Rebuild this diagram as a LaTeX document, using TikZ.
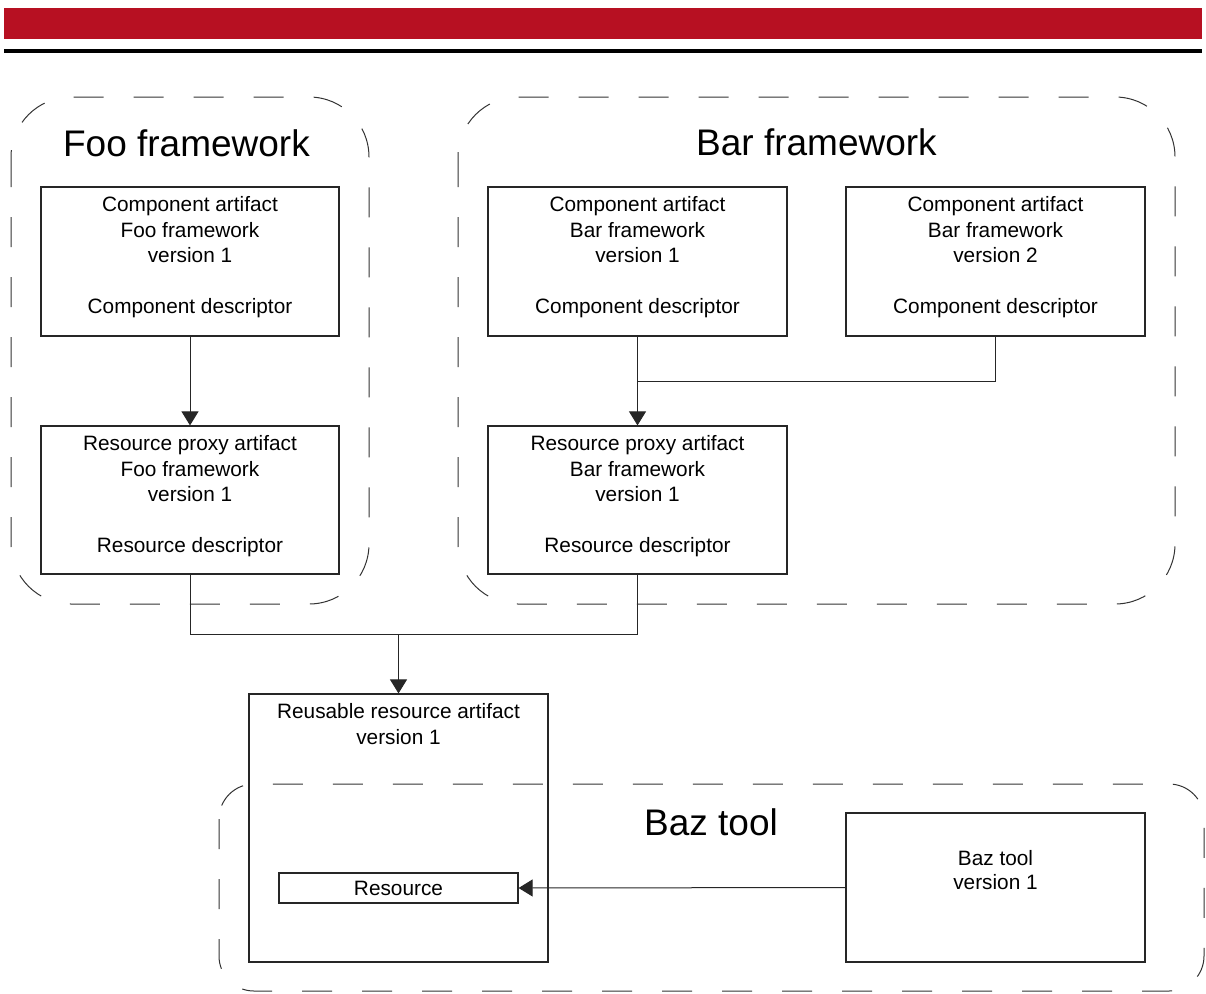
\documentclass[tikz,border=0pt]{standalone}
\usepackage{fontspec}
\setmainfont{Liberation Sans}
\usetikzlibrary{arrows.meta}
\definecolor{bandred}{RGB}{183,16,34}
\begin{document}
\begin{tikzpicture}[x=1pt,y=-1pt,
  artifact/.style={draw=black!85, line width=1.2pt, inner sep=0pt},
  boxtext/.style={anchor=north, inner sep=0pt, align=center,
    font=\fontsize{20.8}{25.5}\selectfont},
  grouptitle/.style={anchor=base, inner sep=0pt, font=\fontsize{37}{44}\selectfont},
  group/.style={draw=black!80, line width=1pt, dash pattern=on 30pt off 30pt},
  flow/.style={draw=black!85, line width=1pt},
  arr/.style={flow, -{Triangle[length=14pt,width=17pt]}},
]
\useasboundingbox (0,0) rectangle (1206,993);

% header bands
\fill[bandred] (4,8) rectangle (1202,38.5);
\fill[black] (4,49) rectangle (1202,52.5);

% framework and tool groups
\draw[group, rounded corners=60pt] (11,97) rectangle (369,604);
\draw[group, rounded corners=60pt] (458,97) rectangle (1175,604);
\draw[group, rounded corners=35pt] (219,784) rectangle (1204,991);

\node[grouptitle] (fooTitle) at (186.5,156) {Foo framework};
\node[grouptitle] (barTitle) at (816.5,155) {Bar framework};
\node[grouptitle] (bazTitle) at (711,835) {Baz tool};

% artifacts
\node[artifact, minimum width=298pt, minimum height=149pt] (fooComp) at (190,261.5) {};
\node[artifact, minimum width=299pt, minimum height=149pt] (barCompA) at (637.5,261.5) {};
\node[artifact, minimum width=299pt, minimum height=149pt] (barCompB) at (995.5,261.5) {};
\node[artifact, minimum width=298pt, minimum height=148pt] (fooProxy) at (190,500) {};
\node[artifact, minimum width=299pt, minimum height=148pt] (barProxy) at (637.5,500) {};
\node[artifact, minimum width=299pt, minimum height=268pt] (reusable) at (398.5,828) {};
\node[artifact, minimum width=239pt, minimum height=30pt] (resource) at (398.5,888) {};
\node[artifact, minimum width=299pt, minimum height=149pt] (baz) at (995.5,887.5) {};

% artifact texts
\node[boxtext] (fooCompText) at ([yshift=-10pt]fooComp.north)
  {Component artifact\\Foo framework\\version 1\\[25.5pt]Component descriptor};
\node[boxtext] (barCompAText) at ([yshift=-10pt]barCompA.north)
  {Component artifact\\Bar framework\\version 1\\[25.5pt]Component descriptor};
\node[boxtext] (barCompBText) at ([yshift=-10pt]barCompB.north)
  {Component artifact\\Bar framework\\version 2\\[25.5pt]Component descriptor};
\node[boxtext] (fooProxyText) at ([yshift=-10pt]fooProxy.north)
  {Resource proxy artifact\\Foo framework\\version 1\\[25.5pt]Resource descriptor};
\node[boxtext] (barProxyText) at ([yshift=-10pt]barProxy.north)
  {Resource proxy artifact\\Bar framework\\version 1\\[25.5pt]Resource descriptor};
\node[boxtext] (reusableText) at ([yshift=-10pt]reusable.north)
  {Reusable resource artifact\\version 1};
\node[boxtext, anchor=center] (resourceText) at (resource.center) {Resource};
\node[boxtext, font=\fontsize{20.8}{24}\selectfont] (bazText) at ([yshift=-37.5pt]baz.north)
  {Baz tool\\version 1};

% connectors
\coordinate (barJoin) at (637.5,381);
\coordinate (proxyJoin) at (398.5,634);
\draw[arr] (fooComp.south) -- (fooProxy.north);
\draw[arr] (barCompA.south) -- (barProxy.north);
\draw[flow] (barCompB.south) |- (barJoin);
\draw[flow] (fooProxy.south) |- (proxyJoin) -| (barProxy.south);
\draw[arr] (proxyJoin) -- (reusable.north);
\draw[arr] (baz.west) -- (resource.east);
\end{tikzpicture}
\end{document}
